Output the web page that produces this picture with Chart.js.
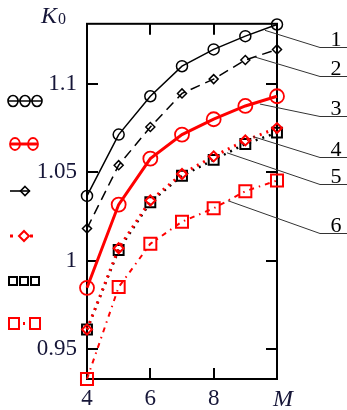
<!DOCTYPE html>
<html>
<head>
<meta charset="utf-8">
<script src="https://cdn.jsdelivr.net/npm/chart.js@4/dist/chart.umd.min.js"></script>
<style>
html,body{margin:0;padding:0;background:#fff;}
#wrap{width:347px;height:410px;position:relative;}
</style>
</head>
<body>
<div id="wrap"><canvas id="c"></canvas></div>
<script>
// ---- data ----
const M = [4, 5, 6, 7, 8, 9, 10];
const s1 = [1.0366, 1.0713, 1.0930, 1.1100, 1.1195, 1.1270, 1.1336];
const s2 = [1.0182, 1.0540, 1.0756, 1.0946, 1.1027, 1.1135, 1.1195];
const s3 = [0.9846, 1.0317, 1.0577, 1.0713, 1.0800, 1.0875, 1.0930];
const s4 = [0.9610, 1.0070, 1.0340, 1.0490, 1.0590, 1.0680, 1.0750];
const s5 = [0.9610, 1.0060, 1.0330, 1.0480, 1.0570, 1.0660, 1.0724];
const s6 = [0.9330, 0.9850, 1.0095, 1.0220, 1.0296, 1.0393, 1.0453];
const yTicks = [0.95, 1, 1.05, 1.1];
const yTickLabels = ['0.95', '1', '1.05', '1.1'];
const xTicks = [4, 6, 8, 10];
const xTickLabels = ['4', '6', '8', '  M'];
const curveNames = ['1', '2', '3', '4', '5', '6'];
// leader-line anchors (data coords) and tag levels
const leadM = [9.62, 9.30, 9.46, 9.24, 8.42, 8.45];
const leadK = [1.1303, 1.1152, 1.0886, 1.0702, 1.0610, 1.0339];
const tagK  = [1.1206, 1.1043, 1.0816, 1.0588, 1.0431, 1.0155];

const RED = '#ff0000', BLK = '#000000';
const SERIF = '"Liberation Serif"';
const pts = arr => M.map((m, i) => ({x: m, y: arr[i]}));

const deco = {
  id: 'deco',
  beforeDatasetsDraw(chart) {
    const {ctx, chartArea: a, scales: {x, y}} = chart;
    ctx.save();
    ctx.strokeStyle = '#000'; ctx.lineWidth = 2;
    ctx.strokeRect(a.left, a.top, a.right - a.left, a.bottom - a.top);
    const tl = 11;
    ctx.beginPath();
    yTicks.forEach(v => {
      const py = Math.round(y.getPixelForValue(v));
      ctx.moveTo(a.left, py); ctx.lineTo(a.left + tl, py);
      ctx.moveTo(a.right, py); ctx.lineTo(a.right - tl, py);
    });
    xTicks.slice(1, -1).forEach(v => {
      const px = Math.round(x.getPixelForValue(v));
      ctx.moveTo(px, a.bottom); ctx.lineTo(px, a.bottom - tl);
      ctx.moveTo(px, a.top); ctx.lineTo(px, a.top + tl);
    });
    ctx.stroke();
    ctx.restore();
  },
  afterDraw(chart) {
    const {ctx, chartArea: a, scales: {x, y}} = chart;
    ctx.save();
    // axis title K0
    ctx.fillStyle = '#161638';
    ctx.textBaseline = 'alphabetic';
    ctx.font = 'italic 24px ' + SERIF;
    ctx.fillText('K', 41, 23);
    ctx.font = '16px ' + SERIF;
    ctx.fillText('0', 58, 24);
    // leader lines + tags
    ctx.strokeStyle = '#333'; ctx.lineWidth = 1;
    ctx.fillStyle = '#000';
    ctx.font = '22px ' + SERIF;
    ctx.textAlign = 'center';
    curveNames.forEach((n, i) => {
      const x0 = x.getPixelForValue(leadM[i]), y0 = y.getPixelForValue(leadK[i]);
      const ty = Math.round(y.getPixelForValue(tagK[i])) + 0.5;
      const x1 = a.right + 43;
      ctx.beginPath();
      ctx.moveTo(x0, y0); ctx.lineTo(x1, ty); ctx.lineTo(chart.width, ty);
      ctx.stroke();
      ctx.fillText(n, a.right + 59, ty - 1.5);
    });
    // legend symbols
    const circ = (cx, cy, rx, ry) => { ctx.beginPath(); ctx.ellipse(cx, cy, rx, ry, 0, 0, Math.PI * 2); ctx.stroke(); };
    const line = (x1, y1, x2, y2) => { ctx.beginPath(); ctx.moveTo(x1, y1); ctx.lineTo(x2, y2); ctx.stroke(); };
    const dia = (cx, cy, r) => { ctx.beginPath(); ctx.moveTo(cx, cy - r); ctx.lineTo(cx + r, cy); ctx.lineTo(cx, cy + r); ctx.lineTo(cx - r, cy); ctx.closePath(); ctx.stroke(); };
    // row 1
    ctx.strokeStyle = BLK; ctx.lineWidth = 1.6;
    [13, 25, 37].forEach(cx => circ(cx, 101, 5, 5.5));
    line(8, 101, 42, 101);
    // row 2
    ctx.strokeStyle = RED; ctx.lineWidth = 1.8;
    [15, 33].forEach(cx => circ(cx, 144, 5, 6));
    ctx.lineWidth = 3; line(10, 144, 38, 144);
    // row 3
    ctx.strokeStyle = BLK; ctx.lineWidth = 1.6;
    line(10, 191, 30, 191); dia(25, 191, 4.5);
    // row 4
    ctx.strokeStyle = RED; ctx.lineWidth = 3;
    line(10, 236, 13, 236); line(30, 236, 33, 236);
    ctx.lineWidth = 2; dia(24, 236, 5);
    // row 5
    ctx.strokeStyle = BLK; ctx.lineWidth = 2;
    [13, 24, 35].forEach(cx => ctx.strokeRect(cx - 4, 277, 8, 8));
    // row 6
    ctx.strokeStyle = RED; ctx.lineWidth = 2;
    [14, 35].forEach(cx => ctx.strokeRect(cx - 5, 318, 10, 11));
    ctx.lineWidth = 2; line(24, 322, 24, 325);
    ctx.restore();
  }
};

function draw() {
  new Chart(document.getElementById('c'), {
    type: 'line',
    data: {
      datasets: [
        {data: pts(s1), borderColor: BLK, borderWidth: 1.5, pointStyle: 'circle', pointRadius: 5.5, pointBorderWidth: 1.5, pointBorderColor: BLK, pointBackgroundColor: 'rgba(0,0,0,0)'},
        {data: pts(s2), borderColor: BLK, borderWidth: 1.5, borderDash: [10, 6], pointStyle: 'rectRot', pointRadius: 4.5, pointBorderWidth: 1.5, pointBorderColor: BLK, pointBackgroundColor: 'rgba(0,0,0,0)'},
        {data: pts(s3), borderColor: RED, borderWidth: 3, pointStyle: 'circle', pointRadius: 7, pointBorderWidth: 1.8, pointBorderColor: RED, pointBackgroundColor: 'rgba(0,0,0,0)'},
        {data: pts(s4), borderColor: RED, borderWidth: 3, borderDash: [2, 5], pointStyle: 'rectRot', pointRadius: 5, pointBorderWidth: 2, pointBorderColor: RED, pointBackgroundColor: 'rgba(0,0,0,0)'},
        {data: pts(s5), borderColor: BLK, borderWidth: 2.5, borderDash: [2, 5], pointStyle: 'rect', pointRadius: 7, pointBorderWidth: 2, pointBorderColor: BLK, pointBackgroundColor: 'rgba(0,0,0,0)'},
        {data: pts(s6), borderColor: RED, borderWidth: 2, borderDash: [5, 5, 1.5, 5], pointStyle: 'rect', pointRadius: 8.5, pointBorderWidth: 2, pointBorderColor: RED, pointBackgroundColor: 'rgba(0,0,0,0)'}
      ]
    },
    options: {
      responsive: true,
      maintainAspectRatio: false,
      animation: false,
      layout: {padding: {left: 0, right: 70, top: 9, bottom: 0}},
      datasets: {line: {tension: 0, clip: false, fill: false}},
      plugins: {legend: {display: false}, tooltip: {enabled: false}},
      scales: {
        x: {
          type: 'linear', min: 4, max: 10,
          grid: {display: false, drawTicks: false},
          border: {display: false},
          afterBuildTicks: s => { s.ticks = xTicks.map(v => ({value: v})); },
          afterFit: s => { s.height = 31; },
          ticks: {
            autoSkip: false, maxRotation: 0, padding: 6, color: '#161638',
            font: c => ({family: SERIF, size: (c.tick && c.tick.value === 10) ? 24 : 23, style: (c.tick && c.tick.value === 10) ? 'italic' : 'normal'}),
            callback: (v) => xTickLabels[xTicks.indexOf(v)]
          }
        },
        y: {
          type: 'linear', min: 0.933, max: 1.134,
          grid: {display: false, drawTicks: false},
          border: {display: false},
          afterBuildTicks: s => { s.ticks = yTicks.map(v => ({value: v})); },
          afterFit: s => { s.width = 87; },
          ticks: {
            padding: 10, color: '#161638',
            font: {family: SERIF, size: 23},
            callback: (v) => yTickLabels[yTicks.indexOf(v)]
          }
        }
      }
    },
    plugins: [deco]
  });
}
Promise.all([
  document.fonts.load('23px "Liberation Serif"'),
  document.fonts.load('italic 23px "Liberation Serif"')
]).then(draw, draw);
</script>
</body>
</html>
